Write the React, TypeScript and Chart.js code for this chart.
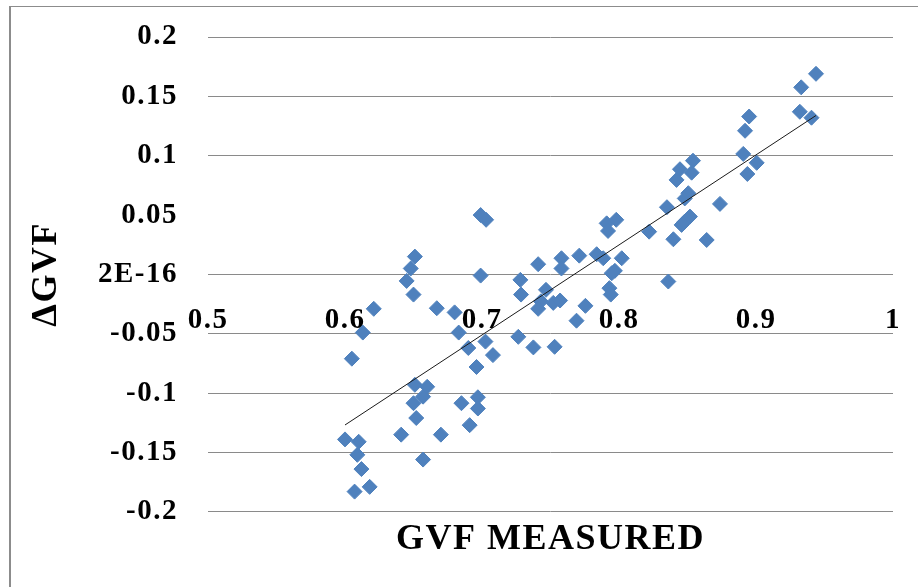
import { useEffect, useRef } from "react";
import { Chart, registerables } from "chart.js";

Chart.register(...registerables);

// Measured gas void fraction (x) and its deviation ΔGVF (y)
const gvfMeasured = [
  0.600, 0.610, 0.609, 0.612, 0.607, 0.618, 0.605, 0.613, 0.621,
  0.651, 0.648, 0.645, 0.650, 0.667, 0.680, 0.683, 0.690, 0.696,
  0.699, 0.699, 0.703, 0.7025, 0.708,
  0.651, 0.660, 0.657, 0.650, 0.652, 0.641, 0.670, 0.657, 0.685,
  0.691, 0.697, 0.697,
  0.7265, 0.7375, 0.753, 0.728, 0.7285, 0.741, 0.7467, 0.743, 0.741,
  0.752, 0.757, 0.758, 0.758, 0.771, 0.7755, 0.769, 0.7837, 0.7885,
  0.791, 0.798, 0.792, 0.802, 0.797, 0.7947, 0.793, 0.794,
  0.822, 0.835, 0.8397, 0.836, 0.8457, 0.848, 0.8518, 0.848, 0.8506,
  0.842, 0.8445, 0.853, 0.854, 0.8737, 0.864,
  0.8907, 0.9005, 0.8937, 0.892, 0.895, 0.932, 0.9405, 0.933, 0.9438,
];

const deltaGvf = [
  -0.139, -0.141, -0.152, -0.164, -0.183, -0.179, -0.071, -0.049, -0.029,
  0.015, 0.005, -0.0055, -0.017, -0.0285, -0.032, -0.049, -0.062, -0.078,
  -0.001, 0.050, 0.046, -0.0566, -0.068,
  -0.093, -0.0947, -0.103, -0.1085, -0.121, -0.135, -0.135, -0.156, -0.1085,
  -0.127, -0.1035, -0.113,
  -0.0526, -0.0615, -0.061, -0.0046, -0.017, 0.0086, -0.013, -0.0227, -0.029,
  -0.024, -0.022, 0.0136, 0.005, 0.0158, -0.0265, -0.039, 0.017, 0.0136,
  0.043, 0.046, 0.0366, 0.0136, 0.003, 0.001, -0.0116, -0.017,
  0.036, 0.0566, 0.0296, -0.006, 0.0417, 0.0445, 0.0487, 0.064, 0.0684,
  0.0796, 0.0886, 0.0857, 0.0958, 0.0594, 0.029,
  0.1015, 0.094, 0.0846, 0.121, 0.133, 0.137, 0.132, 0.1576, 0.169,
];

const xAxisRange = [0.5, 1];
const yAxisRange = [-0.2, 0.2];
const xTitle = "GVF MEASURED";
const yTitle = "ΔGVF";
const zeroTickLabel = "2E-16";

const SERIF = '"Liberation Serif", "Times New Roman", serif';
const MARKER_BLUE = "#4F81BD";
const GRID_GRAY = "#8a8a8a";

const fmt = (v: number) => String(Math.round(v * 100) / 100);

// Slightly wider letter spacing for all chart text
const wideText = {
  id: "wideText",
  beforeDraw(chart: any) {
    chart.ctx.letterSpacing = "1.5px";
  },
  afterDraw(chart: any) {
    chart.ctx.letterSpacing = "0px";
  },
};

export default function App() {
  const canvasRef = useRef<HTMLCanvasElement>(null);

  useEffect(() => {
    document.body.style.margin = "0";
    const canvas = canvasRef.current;
    if (!canvas) return;

    const points = gvfMeasured.map((x, i) => ({ x, y: deltaGvf[i] }));

    // Linear least-squares trend line across the measured range
    const n = points.length;
    const mx = gvfMeasured.reduce((a, b) => a + b, 0) / n;
    const my = deltaGvf.reduce((a, b) => a + b, 0) / n;
    let sxy = 0;
    let sxx = 0;
    points.forEach((p) => {
      sxy += (p.x - mx) * (p.y - my);
      sxx += (p.x - mx) * (p.x - mx);
    });
    const slope = sxy / sxx;
    const intercept = my - slope * mx;
    const xLo = Math.min(...gvfMeasured);
    const xHi = Math.max(...gvfMeasured);
    const trend = [
      { x: xLo, y: intercept + slope * xLo },
      { x: xHi, y: intercept + slope * xHi },
    ];

    const chart = new Chart(canvas, {
      type: "scatter",
      data: {
        datasets: [
          {
            type: "line",
            data: trend,
            borderColor: "#1a1a1a",
            borderWidth: 1,
            pointRadius: 0,
            fill: false,
            order: 0,
          } as any,
          {
            data: points,
            pointStyle: "rectRot",
            pointRadius: 7.5,
            backgroundColor: MARKER_BLUE,
            borderColor: MARKER_BLUE,
            borderWidth: 1,
            order: 1,
          },
        ],
      },
      options: {
        responsive: false,
        animation: false,
        layout: { padding: { left: 0, top: 37, right: 25, bottom: 26 } },
        plugins: {
          legend: { display: false },
          tooltip: { enabled: false },
          title: {
            display: true,
            text: xTitle,
            position: "bottom",
            fullSize: false,
            color: "#000",
            font: { family: SERIF, size: 36, weight: "bold" },
            padding: { top: 6, bottom: 0 },
          },
        },
        scales: {
          x: {
            type: "linear",
            min: xAxisRange[0],
            max: xAxisRange[1],
            position: { y: 0 } as any,
            afterFit: (s: any) => {
              s.paddingLeft = 0;
              s.paddingRight = 0;
            },
            grid: { display: false },
            border: { display: false },
            ticks: {
              stepSize: 0.1,
              padding: 21,
              maxRotation: 0,
              color: "#000",
              font: { family: SERIF, size: 29, weight: "bold" },
              callback: (v: any) => fmt(Number(v)),
            },
          },
          y: {
            type: "linear",
            min: yAxisRange[0],
            max: yAxisRange[1],
            afterFit: (s: any) => {
              s.width = 208;
              s.paddingTop = 0;
              s.paddingBottom = 0;
            },
            grid: {
              drawTicks: false,
              lineWidth: 1,
              color: (ctx: any) =>
                ctx.tick && Math.abs(ctx.tick.value - 0.05) < 1e-9 ? "rgba(0,0,0,0)" : GRID_GRAY,
            },
            border: { display: false },
            ticks: {
              stepSize: 0.05,
              padding: 30,
              color: "#000",
              font: { family: SERIF, size: 29, weight: "bold" },
              callback: (v: any) => (Math.abs(Number(v)) < 1e-9 ? zeroTickLabel : fmt(Number(v))),
            },
            title: {
              display: true,
              text: yTitle,
              color: "#000",
              font: { family: SERIF, size: 36, weight: "bold" },
              padding: { top: 25, bottom: 0 },
            },
          },
        },
      },
      plugins: [wideText],
    });

    return () => chart.destroy();
  }, []);

  return (
    <div style={{ position: "relative", width: 918, height: 587, background: "#fff" }}>
      <canvas ref={canvasRef} width={918} height={587} style={{ display: "block" }} />
      <div
        style={{
          position: "absolute",
          left: 9,
          top: 6,
          right: 0,
          bottom: 0,
          borderLeft: "2px solid #8c8c8c",
          borderTop: "1px solid #8c8c8c",
          pointerEvents: "none",
        }}
      />
    </div>
  );
}
